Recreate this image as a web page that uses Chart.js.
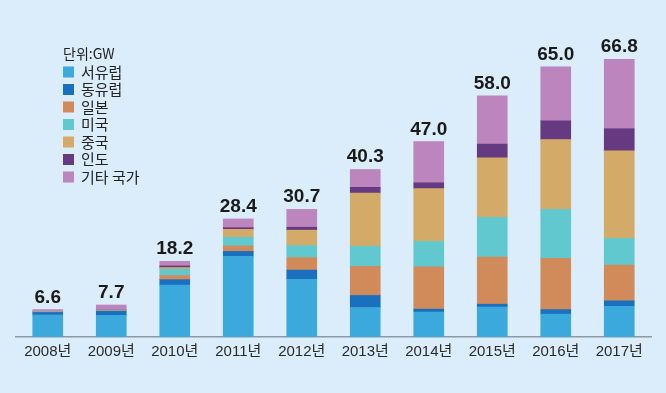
<!DOCTYPE html>
<html><head><meta charset="utf-8">
<script src="https://cdn.jsdelivr.net/npm/chart.js@4/dist/chart.umd.min.js"></script>
<style>
html,body{margin:0;padding:0;background:#dbedfa;}
#wrap{width:666px;height:393px;position:relative;}
</style></head>
<body><div id="wrap"><canvas id="c" width="666" height="393"></canvas></div>
<script>
const years = ['2008년','2009년','2010년','2011년','2012년','2013년','2014년','2015년','2016년','2017년'];
const westEurope = [5.3,5.2,12.5,19.4,13.9,7.1,6.0,7.2,5.5,7.4];
const eastEurope = [0.6,1.0,1.3,1.2,2.2,2.9,0.7,0.7,1.1,1.3];
const japan      = [0.1,0.1,1.0,1.3,3.0,7.0,10.2,11.3,12.3,8.6];
const usa        = [0.1,0.1,1.5,2.1,2.9,4.8,6.1,9.6,11.8,6.4];
const china      = [0.0,0.1,0.4,1.9,3.7,12.8,12.7,14.3,16.8,21.1];
const india      = [0.0,0.0,0.4,0.4,0.7,1.4,1.4,3.3,4.5,5.3];
const others     = [0.5,1.2,1.1,2.1,4.3,4.3,9.9,11.6,13.0,16.7];
const totals     = [6.6,7.7,18.2,28.4,30.7,40.3,47.0,58.0,65.0,66.8];
const seriesNames = ['서유럽','동유럽','일본','미국','중국','인도','기타 국가'];
const unitLabel = '단위:GW';

const colors = ['#3ba9dc','#1a70be','#d18b5b','#61c8cf','#d4aa69','#663a80','#bc85bd'];
const seriesData = [westEurope,eastEurope,japan,usa,china,india,others];

const datasets = seriesData.map((d,i)=>({
  label: seriesNames[i], data: d, backgroundColor: colors[i], borderWidth: 0,
  barThickness: 30, stack: 's'
}));

const overlay = {
  id:'overlay',
  afterDatasetsDraw(chart){
    const ctx = chart.ctx;
    const y = chart.scales.y, x = chart.scales.x;
    ctx.save();
    ctx.fillStyle = '#1a1a1a';
    ctx.font = 'bold 19px "Liberation Sans Narrow", "Liberation Sans", Arial, sans-serif';
    ctx.textAlign = 'center';
    ctx.textBaseline = 'alphabetic';
    totals.forEach((t,i)=>{
      const px = x.getPixelForValue(i);
      const py = y.getPixelForValue(t);
      ctx.fillText(t.toFixed(1), px, py - 7);
    });
    // legend
    ctx.textAlign = 'left';
    ctx.textBaseline = 'middle';
    ctx.fillStyle = '#222';
    ctx.font = '14px "Noto Sans CJK KR", sans-serif';
    ctx.fillText(unitLabel, 63, 54);
    chart.data.datasets.forEach((ds,i)=>{
      const cy = 72 + i*17.5;
      ctx.fillStyle = ds.backgroundColor;
      ctx.fillRect(63, cy-5.5, 11, 11);
      ctx.fillStyle = '#222';
      ctx.font = '15px "Noto Sans CJK KR", sans-serif';
      ctx.fillText(ds.label, 81, cy);
    });
    ctx.restore();
  }
};

new Chart(document.getElementById('c'), {
  type:'bar',
  data:{labels:years, datasets},
  options:{
    responsive:false, animation:false,
    layout:{padding:{left:16,right:15,top:46,bottom:0}},
    plugins:{legend:{display:false}, tooltip:{enabled:false}},
    scales:{
      x:{stacked:true, grid:{display:false, drawTicks:false},
         border:{display:true,color:'#8c9aa5',width:1.5},
         ticks:{color:'#2a2a2a', padding:6, font:{size:15, family:'"Liberation Sans Narrow","Liberation Sans", "Noto Sans CJK KR", sans-serif'}},
         afterFit(s){ s.height = 56; }},
      y:{stacked:true, display:false, min:0, max:70}
    }
  },
  plugins:[overlay]
});
</script></body></html>
